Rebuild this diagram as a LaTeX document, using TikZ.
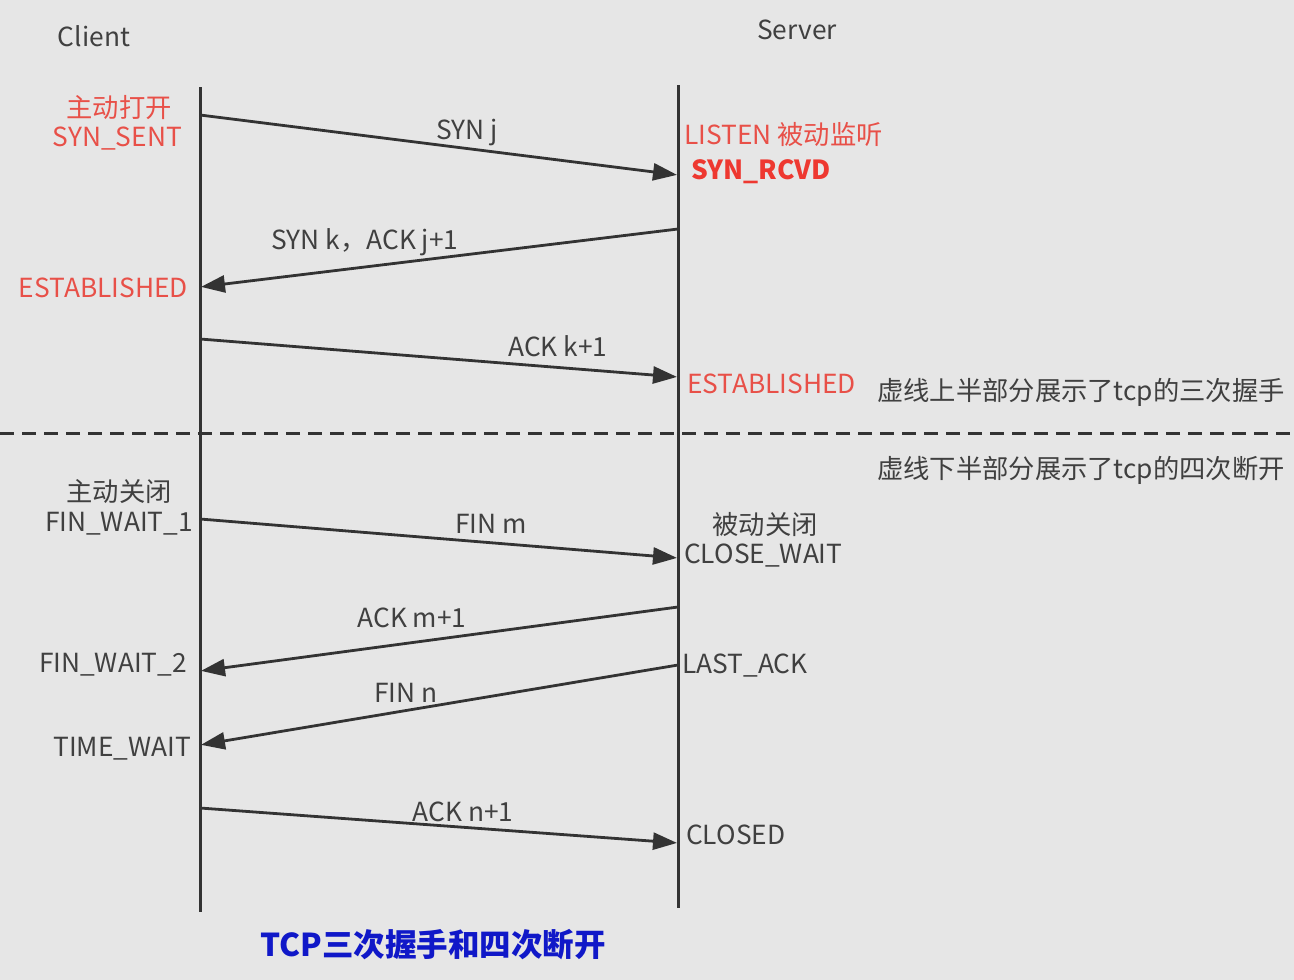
\documentclass[tikz,border=0pt]{standalone}
\usepackage{fontspec}
\setmainfont{Noto Sans CJK SC}
\usetikzlibrary{arrows.meta}
\definecolor{bg}{RGB}{230,230,230}
\definecolor{ink}{RGB}{51,51,51}
\definecolor{lbl}{RGB}{64,64,64}
\definecolor{red1}{RGB}{232,80,72}
\definecolor{red2}{RGB}{238,56,48}
\definecolor{titleblue}{RGB}{16,24,200}
\tikzset{
  life/.style={draw=ink, line width=3pt},
  msg/.style={draw=ink, line width=2.8pt, -{Triangle[length=24pt,width=17pt]}, shorten >=1pt},
  lab/.style={text=lbl, font=\fontsize{26.3}{30}\selectfont, inner sep=0pt},
  rlab/.style={text=red1, font=\fontsize{26.3}{30}\selectfont, inner sep=0pt},
  sep/.style={draw=ink, line width=3pt, dash pattern=on 14pt off 8pt},
}
\begin{document}
\begin{tikzpicture}[x=1pt,y=-1pt]
\useasboundingbox[fill=bg] (0,0) rectangle (1294,980);
% lifelines
\coordinate (ctop) at (200,87);
\coordinate (cbot) at (200,912);
\coordinate (stop) at (678,85);
\coordinate (sbot) at (678,908);
\draw[life] (ctop) -- (cbot);
\draw[life] (stop) -- (sbot);
% dashed separator
\coordinate (dl) at (0,433);
\coordinate (dr) at (1294,433);
\draw[sep] (dl) -- (dr);
% message endpoints
\coordinate (c1) at (200,115);  \coordinate (s1) at (678,175);
\coordinate (s2) at (678,229);  \coordinate (c2) at (200,287);
\coordinate (c3) at (200,339);  \coordinate (s3) at (678,377);
\coordinate (c4) at (200,519);  \coordinate (s4) at (678,558);
\coordinate (s5) at (678,607);  \coordinate (c5) at (200,671);
\coordinate (s6) at (678,665);  \coordinate (c6) at (200,745);
\coordinate (c7) at (200,808);  \coordinate (s7) at (678,843);
\draw[msg] (c1) -- (s1);
\draw[msg] (s2) -- (c2);
\draw[msg] (c3) -- (s3);
\draw[msg] (c4) -- (s4);
\draw[msg] (s5) -- (c5);
\draw[msg] (s6) -- (c6);
\draw[msg] (c7) -- (s7);
% message labels
\node[lab] (m1) at (467,132) {SYN j};
\node[lab] (m2) at (365,242) {SYN k，ACK j+1};
\node[lab] (m3) at (558,346) {ACK k+1};
\node[lab] (m4) at (491,524) {FIN m};
\node[lab] (m5) at (412,618) {ACK m+1};
\node[lab] (m6) at (406,693) {FIN n};
\node[lab] (m7) at (463,812) {ACK n+1};
% headers
\node[lab] (client) at (94,36) {Client};
\node[lab] (server) at (797,30) {Server};
% client states
\node[rlab] (zdopen) at (119,108) {主动打开};
\node[rlab, anchor=east] (synsent) at (182,139) {SYN\_SENT};
\node[rlab, anchor=east] (cest) at (188,288) {ESTABLISHED};
\node[lab] (zdclose) at (119,492) {主动关闭};
\node[lab, anchor=east] (fw1) at (193,524) {FIN\_WAIT\_1};
\node[lab, anchor=east] (fw2) at (187,665) {FIN\_WAIT\_2};
\node[lab, anchor=east] (tw) at (191,749) {TIME\_WAIT};
% server states
\node[rlab, anchor=west] (listen) at (684,134) {LISTEN 被动监听};
\node[rlab, text=red2, anchor=west, font=\fontsize{26.3}{30}\selectfont\bfseries] (rcvd) at (691,172) {SYN\_RCVD};
\node[rlab, anchor=west] (sest) at (687,384) {ESTABLISHED};
\node[lab] (bdclose) at (765,524) {被动关闭};
\node[lab, anchor=west] (cw) at (684,556) {CLOSE\_WAIT};
\node[lab, anchor=west] (la) at (682,666) {LAST\_ACK};
\node[lab, anchor=west] (closed) at (686,835) {CLOSED};
% notes
\node[lab, anchor=west] (note1) at (877,392) {虚线上半部分展示了tcp的三次握手};
\node[lab, anchor=west] (note2) at (877,470) {虚线下半部分展示了tcp的四次断开};
% title
\node[text=titleblue, font=\fontsize{31.5}{36}\selectfont\bfseries, inner sep=0pt] (title) at (433,945) {TCP三次握手和四次断开};
\end{tikzpicture}
\end{document}
